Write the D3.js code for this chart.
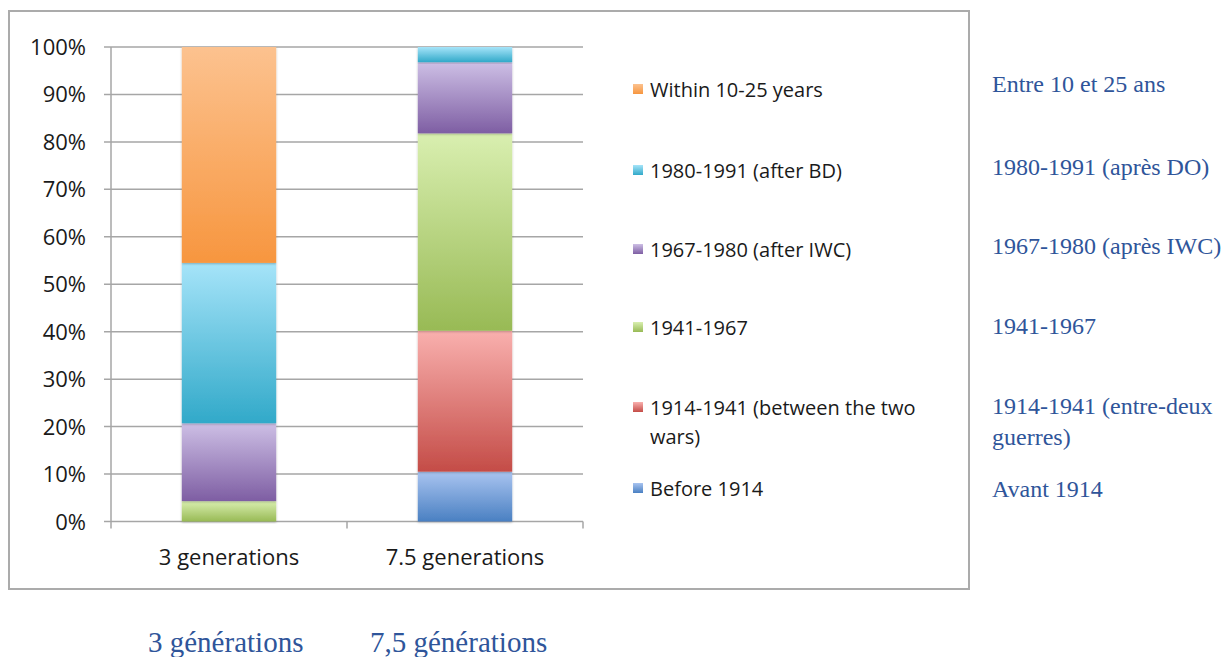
<!DOCTYPE html>
<html>
<head>
<meta charset="utf-8">
<script src="https://cdn.jsdelivr.net/npm/d3@7"></script>
<style>
body { margin: 0; background: #fff; }
</style>
</head>
<body>
<script>
// Size of the page
var width = 1222;
var height = 657;

// Data (percent of each bar)
var categories = ["3 generations", "7.5 generations"];
var categoriesFr = ["3 générations", "7,5 générations"];
var periods = ["Before 1914", "1914-1941 (between the two wars)", "1941-1967", "1967-1980 (after IWC)", "1980-1991 (after BD)", "Within 10-25 years"];
var periodsFr = ["Avant 1914", "1914-1941 (entre-deux guerres)", "1941-1967", "1967-1980 (après IWC)", "1980-1991 (après DO)", "Entre 10 et 25 ans"];
var values3gen = [0, 0, 4.3, 16.4, 33.8, 45.5];
var values75gen = [10.5, 29.7, 41.6, 15.0, 3.2, 0];
var yTicks = [0, 10, 20, 30, 40, 50, 60, 70, 80, 90, 100];

// Gradient colours, top (light) to bottom (dark)
var colorTop = ["#a9c4f0", "#f9b0ae", "#d9efb0", "#cdbfe5", "#a6e4f9", "#fcc28f"];
var colorBottom = ["#4a80c2", "#c44c47", "#98ba55", "#7e5ea3", "#31a9c9", "#f7963f"];

var chartFont = "'Open Sans', Lato, sans-serif";
var axisSize = 22;
var legendSize = 20;
var frFont = "'Liberation Serif', 'Times New Roman', serif";

var svg = d3.select("body")
            .append("svg")
            .attr("width", width)
            .attr("height", height);

var defs = svg.append("defs");

periods.forEach(function(p, i) {
    var g = defs.append("linearGradient")
        .attr("id", "grad" + i)
        .attr("x1", 0).attr("y1", 0)
        .attr("x2", 0).attr("y2", 1);
    g.append("stop").attr("offset", "0%").attr("stop-color", colorTop[i]);
    g.append("stop").attr("offset", "100%").attr("stop-color", colorBottom[i]);
});

var shadow = defs.append("filter").attr("id", "shadow")
    .attr("x", "-10%").attr("y", "-10%").attr("width", "120%").attr("height", "120%");
shadow.append("feDropShadow")
    .attr("dx", 0).attr("dy", 1).attr("stdDeviation", 1.2)
    .attr("flood-color", "#000").attr("flood-opacity", 0.25);

// Chart frame
svg.append("rect")
    .attr("x", 9).attr("y", 11)
    .attr("width", 960).attr("height", 578)
    .attr("fill", "none")
    .attr("stroke", "#ababab")
    .attr("stroke-width", 2);

// Scales
var y = d3.scaleLinear().domain([0, 100]).range([521.5, 47]);
var x = d3.scaleBand().domain(categories).range([111, 583]).paddingInner(0.6).paddingOuter(0.3);

// Gridlines
svg.append("g")
    .selectAll("line")
    .data(yTicks)
    .enter()
    .append("line")
    .attr("x1", 104).attr("x2", 583)
    .attr("y1", function(d) { return y(d); })
    .attr("y2", function(d) { return y(d); })
    .attr("stroke", "#a6a6a6")
    .attr("stroke-width", 1.5);

// Y axis labels
svg.append("g")
    .selectAll("text")
    .data(yTicks)
    .enter()
    .append("text")
    .attr("x", 86)
    .attr("y", function(d) { return y(d) + 8; })
    .attr("text-anchor", "end")
    .attr("font-family", chartFont)
    .attr("font-size", axisSize)
    .attr("fill", "#1a1a1a")
    .text(function(d) { return d + "%"; });

// Axis lines
svg.append("line")
    .attr("x1", 111).attr("x2", 111)
    .attr("y1", y(100)).attr("y2", y(0))
    .attr("stroke", "#a6a6a6").attr("stroke-width", 1.5);
svg.append("g")
    .selectAll("line")
    .data([111, 347, 583])
    .enter()
    .append("line")
    .attr("x1", function(d) { return d; }).attr("x2", function(d) { return d; })
    .attr("y1", y(0)).attr("y2", y(0) + 7)
    .attr("stroke", "#a6a6a6").attr("stroke-width", 1.5);

// Stacked bars
var rows = categories.map(function(c, i) {
    var vals = i === 0 ? values3gen : values75gen;
    var row = { category: c };
    periods.forEach(function(p, j) { row[p] = vals[j]; });
    return row;
});
var stack = d3.stack().keys(periods)(rows);

svg.append("g")
    .selectAll("g")
    .data(stack)
    .enter()
    .append("g")
    .attr("fill", function(d, i) { return "url(#grad" + i + ")"; })
    .selectAll("rect")
    .data(function(d) { return d.filter(function(s) { return s[1] - s[0] > 0; }); })
    .enter()
    .append("rect")
    .attr("x", function(d) { return x(d.data.category); })
    .attr("width", x.bandwidth())
    .attr("y", function(d) { return y(d[1]); })
    .attr("height", function(d) { return y(d[0]) - y(d[1]); })
    .attr("filter", "url(#shadow)");

// Category labels
svg.append("g")
    .selectAll("text")
    .data(categories)
    .enter()
    .append("text")
    .attr("x", function(d) { return x(d) + x.bandwidth() / 2; })
    .attr("y", 565)
    .attr("text-anchor", "middle")
    .attr("font-family", chartFont)
    .attr("font-size", axisSize)
    .attr("fill", "#1a1a1a")
    .text(function(d) { return d; });

// Legend (top to bottom = reverse of stacking)
var legendY = [89, 170, 249, 327, 407, 488];
var legendOrder = periods.slice().reverse();
var legendLines = {
    "1914-1941 (between the two wars)": ["1914-1941 (between the two", "wars)"]
};

var legend = svg.selectAll("g.legend")
    .data(legendOrder)
    .enter()
    .append("g")
    .attr("class", "legend");

legend.append("rect")
    .attr("x", 633)
    .attr("y", function(d, i) { return legendY[i] - 5; })
    .attr("width", 10)
    .attr("height", 10)
    .attr("fill", function(d) { return "url(#grad" + periods.indexOf(d) + ")"; });

legend.append("text")
    .attr("x", 650)
    .attr("y", function(d, i) { return legendY[i] + 7.5; })
    .attr("font-family", chartFont)
    .attr("font-size", legendSize)
    .attr("fill", "#1a1a1a")
    .each(function(d) {
        var lines = legendLines[d] || [d];
        var t = d3.select(this);
        lines.forEach(function(l, k) {
            t.append("tspan").attr("x", 650).attr("dy", k === 0 ? 0 : 29).text(l);
        });
    });

// French translations on the right
var frY = [92, 175, 254, 334, 414, 497];
var frOrder = periodsFr.slice().reverse();
var frLines = {
    "1914-1941 (entre-deux guerres)": ["1914-1941 (entre-deux", "guerres)"]
};

svg.append("g")
    .selectAll("text")
    .data(frOrder)
    .enter()
    .append("text")
    .attr("x", 992)
    .attr("y", function(d, i) { return frY[i]; })
    .attr("font-family", frFont)
    .attr("font-size", 24)
    .attr("fill", "#2f559a")
    .each(function(d) {
        var lines = frLines[d] || [d];
        var t = d3.select(this);
        lines.forEach(function(l, k) {
            t.append("tspan").attr("x", 992).attr("dy", k === 0 ? 0 : 31).text(l);
        });
    });

// French category labels under the frame
svg.append("g")
    .selectAll("text")
    .data(categoriesFr)
    .enter()
    .append("text")
    .attr("x", function(d, i) { return [148, 370][i]; })
    .attr("y", 652)
    .attr("font-family", frFont)
    .attr("font-size", 29)
    .attr("fill", "#2f559a")
    .text(function(d) { return d; });
</script>
</body>
</html>
